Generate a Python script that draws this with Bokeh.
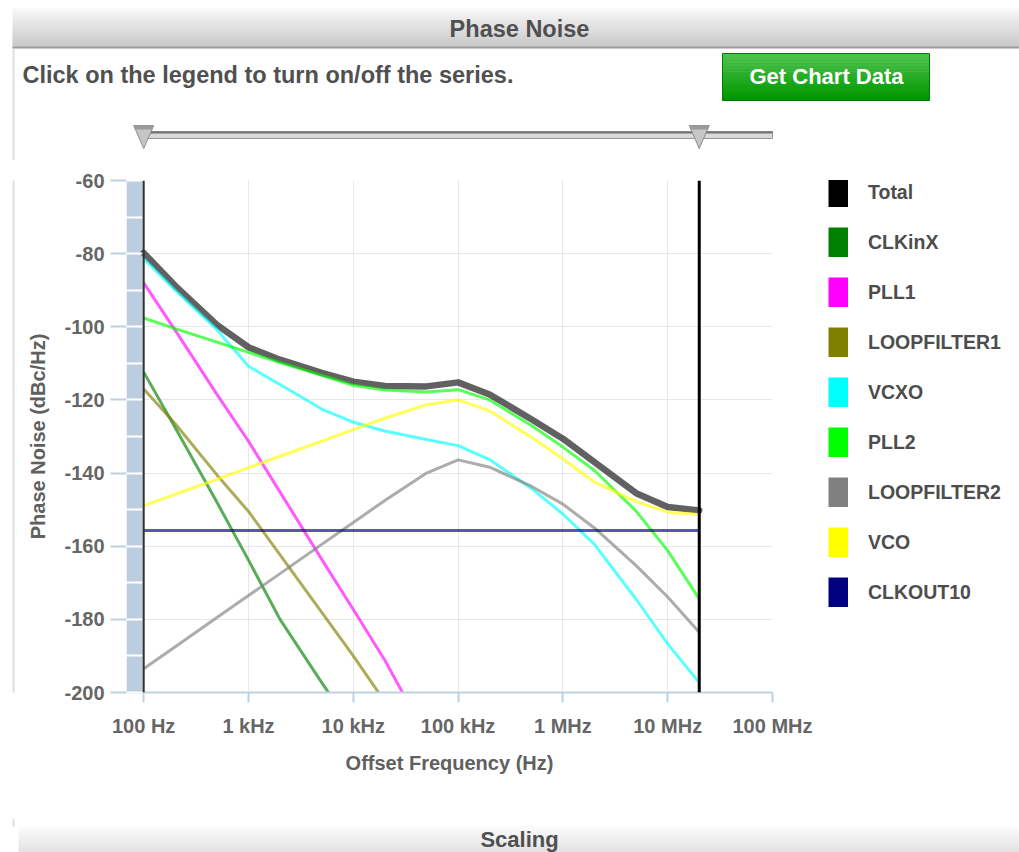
import numpy as np
from bokeh.plotting import figure
from bokeh.layouts import column, row
from bokeh.models import (Range1d, FixedTicker, Span, Legend, LegendItem, ColumnDataSource,
                          CustomJS)
from bokeh.core.properties import value
from bokeh.embed import file_html
from bokeh.resources import INLINE

# ---------------------------------------------------------------- data
NAN = float("nan")
FREQ_HZ = [1e2, 2e2, 5e2, 1e3, 2e3, 5e3, 1e4, 2e4, 5e4, 1e5, 2e5, 5e5, 1e6, 2e6, 5e6, 1e7, 2e7]

TOTAL = [-79.8, -88.8, -99.5, -105.6, -109.0, -112.6, -115.0, -116.2, -116.3, -115.2,
         -118.5, -125.3, -130.6, -137.0, -145.5, -149.3, -150.2]
CLKINX = [-112.4, -127.6, -148.0, -163.8, -180.0, -197.3, -210.0, NAN, NAN, NAN,
          NAN, NAN, NAN, NAN, NAN, NAN, NAN]
PLL1 = [-88.0, -101.0, -118.5, -131.3, -145.2, -163.6, -177.3, -191.2, -212.0, NAN,
        NAN, NAN, NAN, NAN, NAN, NAN, NAN]
LOOPFILTER1 = [-117.0, -126.5, -140.5, -150.5, -162.4, -178.1, -190.0, -202.5, NAN, NAN,
               NAN, NAN, NAN, NAN, NAN, NAN, NAN]
VCXO = [-81.4, -90.0, -100.8, -110.8, -115.8, -122.5, -126.1, -128.5, -130.8, -132.5,
        -136.3, -144.2, -151.2, -159.5, -174.5, -186.7, -197.3]
PLL2 = [-97.6, -100.5, -104.2, -107.0, -109.8, -113.3, -116.0, -117.3, -117.8, -117.2,
        -120.0, -127.0, -132.9, -139.3, -150.4, -161.2, -174.4]
LOOPFILTER2 = [-193.5, -187.5, -179.5, -173.5, -167.5, -159.5, -153.5, -147.5, -140.0, -136.4,
               -138.4, -143.6, -148.5, -155.0, -165.3, -173.9, -183.5]
VCO = [-148.9, -145.8, -141.7, -138.5, -135.4, -131.3, -128.1, -125.0, -121.3, -120.0,
       -123.0, -130.2, -136.1, -142.5, -147.8, -150.7, -151.3]
CLKOUT10 = [-155.7, -155.7, -155.7, -155.7, -155.7, -155.7, -155.7, -155.7, -155.7, -155.7,
            -155.7, -155.7, -155.7, -155.7, -155.7, -155.7, -155.7]

SERIES_NAMES = ["Total", "CLKinX", "PLL1", "LOOPFILTER1", "VCXO", "PLL2",
                "LOOPFILTER2", "VCO", "CLKOUT10"]
SERIES_VALUES = [TOTAL, CLKINX, PLL1, LOOPFILTER1, VCXO, PLL2, LOOPFILTER2, VCO, CLKOUT10]
SERIES_COLORS = ["#000000", "#008000", "#ff00ff", "#808000", "#00ffff", "#00ff00",
                 "#808080", "#ffff00", "#000080"]

X_TICKS = [1e2, 1e3, 1e4, 1e5, 1e6, 1e7, 1e8]
X_TICK_LABELS = ["100 Hz", "1 kHz", "10 kHz", "100 kHz", "1 MHz", "10 MHz", "100 MHz"]
Y_TICKS = [-200, -180, -160, -140, -120, -100, -80, -60]
Y_TICK_LABELS = ["-200", "-180", "-160", "-140", "-120", "-100", "-80", "-60"]
Y_MINOR = [-200, -190, -180, -170, -160, -150, -140, -130, -120, -110, -100, -90, -80, -70, -60]
SLIDER_RANGE = [1e2, 2e7]   # markers (plot lines) on the chart
Y_MIN, Y_MAX = -200, -60

TITLE = "Phase Noise"
HINT = "Click on the legend to turn on/off the series."
BUTTON = "Get Chart Data"
NEXT_SECTION = "Scaling"

FONT = value("Liberation Sans")
PAGE_W, PAGE_H = 1019, 852


def lerp_hex(c1, c2, t):
    a = [int(c1[i:i + 2], 16) for i in (1, 3, 5)]
    b = [int(c2[i:i + 2], 16) for i in (1, 3, 5)]
    return "#%02x%02x%02x" % tuple(round(a[k] + (b[k] - a[k]) * t) for k in range(3))


def page_fig(width, x0, y0, height):
    f = figure(width=width, height=height, x_range=Range1d(x0, x0 + width),
               y_range=Range1d(y0 + height, y0), output_backend="svg",
               toolbar_location=None, min_border=0,
               x_axis_location=None, y_axis_location=None)
    f.grid.visible = False
    f.outline_line_color = None
    return f


def gradient(f, left, right, top, bottom, c_top, c_bot, n=20):
    h = (bottom - top) / n
    tops = [top + i * h for i in range(n)]
    bots = [t + h + 0.5 for t in tops]
    cols = [lerp_hex(c_top, c_bot, i / (n - 1)) for i in range(n)]
    f.quad(left=[left] * n, right=[right] * n, top=tops, bottom=bots,
           fill_color=cols, line_color=None)


# chart pixel geometry (page coordinates)
FRAME_L, FRAME_R, FRAME_T, FRAME_B = 126, 772, 180, 692
ROW_T, ROW_B = 160, 818
STRIP_W = 20
CHART_R = 818            # the legend column starts here
LEGEND_TOP = 177
DEC_PX = 104.8
LOG_START = 8 - (FRAME_R - FRAME_L) / DEC_PX


def page_x(freq):
    return FRAME_L + (np.log10(freq) - LOG_START) * DEC_PX


# ---------------------------------------------------------------- top strip
top = page_fig(PAGE_W, 0, 0, ROW_T)
top.segment(x0=[13], y0=[48], x1=[13], y1=[ROW_T], line_color="#dedede", line_width=2)
gradient(top, 12, PAGE_W, 8, 46, "#f7f7f7", "#c9c9c9")
top.segment(x0=[12], y0=[47], x1=[PAGE_W], y1=[47], line_color="#9c9c9c", line_width=2)
top.text(x=[519], y=[28], text=[TITLE], text_font=FONT, text_font_style="bold",
         text_font_size="23.5px", text_align="center", text_baseline="middle",
         text_color="#505050")
top.text(x=[22], y=[74], text=[HINT], text_font=FONT, text_font_style="bold",
         text_font_size="23.5px", text_align="left", text_baseline="middle",
         text_color="#505050")
gradient(top, 722, 929, 53, 100, "#4cc24c", "#009600", n=16)
top.quad(left=[722], right=[929], top=[53], bottom=[100], fill_color=None,
         line_color="#007a00", line_width=1)
top.text(x=[826], y=[76], text=[BUTTON], text_font=FONT, text_font_style="bold",
         text_font_size="22px", text_align="center", text_baseline="middle",
         text_color="white")
# range slider
sx0, sx1 = page_x(SLIDER_RANGE[0]), page_x(SLIDER_RANGE[1])
top.quad(left=[sx0], right=[FRAME_R], top=[131], bottom=[138], fill_color="#d9d9d9",
         line_color="#999999", line_width=1)
top.segment(x0=[sx0], y0=[132], x1=[FRAME_R], y1=[132], line_color="#727272", line_width=2)
hx = [sx0, sx1]
top.patches(xs=[[x - 10, x + 10, x] for x in hx], ys=[[125, 125, 148] for _ in hx],
            fill_color="#c6c6c6", line_color="#8c8c8c", line_width=1)
top.quad(left=[x - 9 for x in hx], right=[x + 9 for x in hx], top=[125, 125],
         bottom=[129, 129], fill_color="#9a9a9a", line_color=None)

# ---------------------------------------------------------------- left strip
strip = page_fig(STRIP_W, 0, ROW_T, ROW_B - ROW_T)
strip.segment(x0=[13], y0=[ROW_T - 50], x1=[13], y1=[ROW_B + 50], line_color="#dedede",
              line_width=2)

# ---------------------------------------------------------------- chart
p = figure(width=CHART_R - STRIP_W, height=ROW_B - ROW_T, x_axis_type="log",
           x_range=Range1d(10 ** LOG_START, 1e8), y_range=Range1d(Y_MIN, Y_MAX),
           min_border_left=FRAME_L - STRIP_W, min_border_right=CHART_R - FRAME_R,
           min_border_top=FRAME_T - ROW_T, min_border_bottom=ROW_B - FRAME_B,
           output_backend="svg", toolbar_location=None)
p.outline_line_color = None
p.background_fill_color = "white"

# grid
p.xgrid.ticker = FixedTicker(ticks=X_TICKS[1:-1])
p.xgrid.grid_line_color = "#e8e8e8"
p.ygrid.grid_line_color = "#e8e8e8"
p.ygrid.ticker = FixedTicker(ticks=Y_TICKS)

# x axis
xa = p.xaxis[0]
xa.ticker = FixedTicker(ticks=X_TICKS, minor_ticks=[])
xa.major_label_overrides = {int(t): lab for t, lab in zip(X_TICKS, X_TICK_LABELS)}
xa.axis_line_color = "#c0d0e0"
xa.axis_line_width = 2
xa.major_tick_line_color = "#c0d0e0"
xa.major_tick_line_width = 2
xa.major_tick_out = 10
xa.major_tick_in = 0
xa.minor_tick_line_color = None
xa.major_label_standoff = 12
xa.major_label_text_font = "Liberation Sans"
xa.major_label_text_font_style = "bold"
xa.major_label_text_font_size = "20px"
xa.major_label_text_color = "#666666"
xa.axis_label = "Offset Frequency (Hz)"
xa.axis_label_standoff = 12
xa.axis_label_text_font = "Liberation Sans"
xa.axis_label_text_font_style = "bold"
xa.axis_label_text_font_size = "20px"
xa.axis_label_text_color = "#606060"

# y axis (the blue band with white ticks sits at the left of the frame)
ya = p.yaxis[0]
ya.ticker = FixedTicker(ticks=Y_TICKS, minor_ticks=Y_MINOR)
ya.major_label_overrides = {t: lab for t, lab in zip(Y_TICKS, Y_TICK_LABELS)}
ya.axis_line_color = None
ya.major_tick_line_color = "#c0d0e0"
ya.major_tick_line_width = 2
ya.major_tick_out = 16
ya.major_tick_in = 0
ya.minor_tick_line_color = "white"
ya.minor_tick_line_width = 2
ya.minor_tick_in = 16
ya.minor_tick_out = 0
ya.major_label_standoff = 6
ya.major_label_text_font = "Liberation Sans"
ya.major_label_text_font_style = "bold"
ya.major_label_text_font_size = "20px"
ya.major_label_text_color = "#666666"
ya.axis_label = "Phase Noise (dBc/Hz)"
ya.axis_label_standoff = 12
ya.axis_label_text_font = "Liberation Sans"
ya.axis_label_text_font_style = "bold"
ya.axis_label_text_font_size = "20px"
ya.axis_label_text_color = "#606060"

p.quad(left=[10 ** LOG_START], right=[SLIDER_RANGE[0]], bottom=[Y_MIN], top=[Y_MAX],
       fill_color="#bccddf", line_color=None)

# ---------------------------------------------------------------- legend column
lf = figure(width=PAGE_W - CHART_R, height=ROW_B - ROW_T, x_range=Range1d(0, 1),
            y_range=Range1d(0, 1), output_backend="svg", toolbar_location=None,
            min_border_left=0, min_border_right=0, min_border_top=FRAME_T - ROW_T,
            min_border_bottom=ROW_B - FRAME_B, x_axis_location=None, y_axis_location=None)
lf.grid.visible = False
lf.outline_line_color = None

items = []
for name, vals, col in zip(SERIES_NAMES, SERIES_VALUES, SERIES_COLORS):
    src = ColumnDataSource(dict(x=np.array(FREQ_HZ, dtype=float),
                                y=np.array(vals, dtype=float)))
    if name == "Total":
        ln = p.line("x", "y", source=src, line_color=col, line_width=6.5,
                    line_alpha=0.62, line_cap="round", line_join="round")
    else:
        ln = p.line("x", "y", source=src, line_color=col, line_width=3,
                    line_alpha=0.65, line_join="round")
    # legend swatch: a wide butt-capped line (no visible data) draws a solid block
    sw_src = ColumnDataSource(dict(x=np.array([NAN]), y=np.array([NAN])))
    sw = lf.line("x", "y", source=sw_src, line_color=col, line_width=30, line_cap="butt")
    sw.js_on_change("visible", CustomJS(args=dict(target=ln),
                                        code="target.visible = cb_obj.visible;"))
    items.append(LegendItem(label=name, renderers=[sw]))

p.add_layout(Span(location=SLIDER_RANGE[0], dimension="height", line_color="#333333",
                  line_width=2))
p.add_layout(Span(location=SLIDER_RANGE[1], dimension="height", line_color="black",
                  line_width=3))

LEG_H = 9 * 30 + 8 * 20
legend = Legend(items=items, location=(828 - CHART_R, FRAME_B - LEGEND_TOP - LEG_H),
                orientation="vertical",
                glyph_width=20, glyph_height=30, spacing=20, label_standoff=20,
                padding=0, margin=0, border_line_color=None, background_fill_alpha=0,
                label_text_font="Liberation Sans", label_text_font_style="bold",
                label_text_font_size="19.5px", label_text_color="#4d4d4d",
                click_policy="hide")
lf.add_layout(legend, "center")

# ---------------------------------------------------------------- bottom strip
bot = page_fig(PAGE_W, 0, ROW_B, PAGE_H - ROW_B)
bot.segment(x0=[13], y0=[ROW_B], x1=[13], y1=[826], line_color="#dedede", line_width=2)
gradient(bot, 18, PAGE_W, 826, 870, "#fbfbfb", "#d0d0d0", n=22)
bot.text(x=[519], y=[839], text=[NEXT_SECTION], text_font=FONT, text_font_style="bold",
         text_font_size="22px", text_align="center", text_baseline="middle",
         text_color="#505050")

layout = column(top, row(strip, p, lf), bot)
open("out.html", "w").write(file_html(layout, INLINE))
